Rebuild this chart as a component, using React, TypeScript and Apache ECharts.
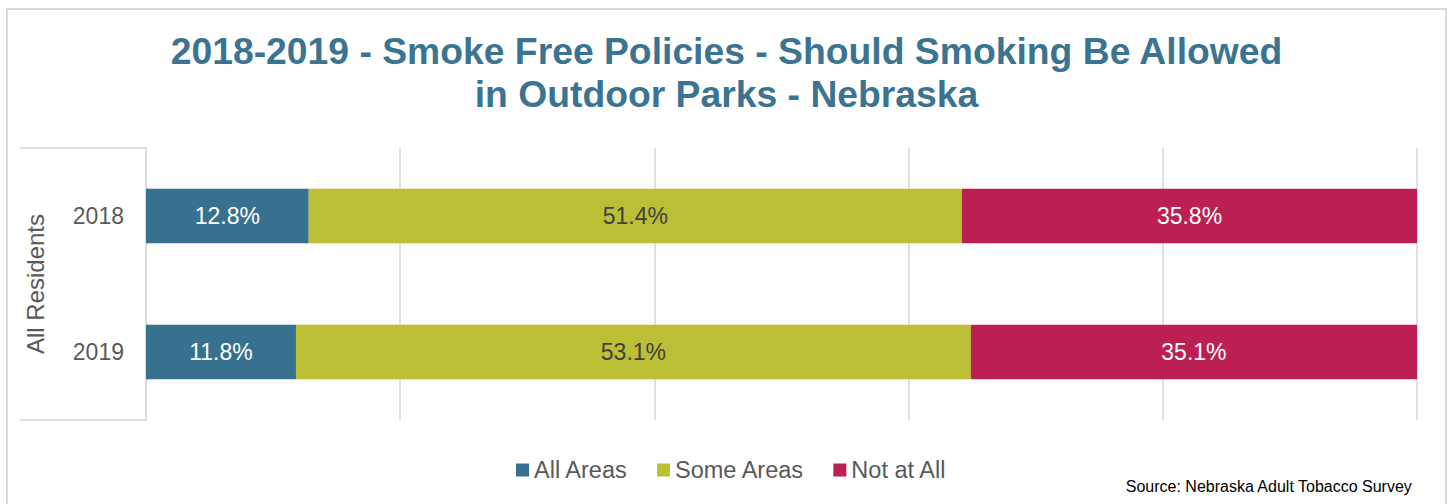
import React, { useEffect, useRef } from "react";
import * as echarts from "echarts";

const categories = ["2018", "2019"];
const seriesNames = ["All Areas", "Some Areas", "Not at All"];
const allAreas = [12.8, 11.8];
const someAreas = [51.4, 53.1];
const notAtAll = [35.8, 35.1];
const xTicks = [0, 20, 40, 60, 80, 100];

const titleText =
  "2018-2019 - Smoke Free Policies - Should Smoking Be Allowed\nin Outdoor Parks - Nebraska";
const groupLabel = "All Residents";
const sourceText = "Source: Nebraska Adult Tobacco Survey";

const colors = ["#38718F", "#BBBF35", "#BC1F52"];
const labelColors = ["#FFFFFF", "#404040", "#FFFFFF"];
const FONT = "'Liberation Sans', Arial, sans-serif";

export default function App() {
  const ref = useRef<HTMLDivElement>(null);
  useEffect(() => {
    if (!ref.current) return;
    const chart = echarts.init(ref.current, undefined, { renderer: "svg" });
    const values = [allAreas, someAreas, notAtAll];
    const gridLeft = 146;
    const gridTop = 148;
    const gridBottomY = 420;
    chart.setOption({
      animation: false,
      backgroundColor: "#FFFFFF",
      textStyle: { fontFamily: FONT },
      title: {
        text: titleText,
        left: "center",
        top: 29,
        padding: 0,
        textStyle: {
          fontFamily: FONT,
          fontSize: 37.3,
          fontWeight: "bold",
          color: "#3A7491",
          lineHeight: 43,
        },
      },
      legend: {
        data: seriesNames,
        left: 516,
        top: 458,
        padding: 0,
        icon: "rect",
        itemWidth: 13,
        itemHeight: 13,
        itemGap: 29,
        textStyle: { fontFamily: FONT, fontSize: 23.5, color: "#595959" },
      },
      grid: { left: gridLeft, right: 36, top: gridTop, bottom: 504 - gridBottomY, containLabel: false },
      xAxis: {
        type: "value",
        min: xTicks[0],
        max: xTicks[xTicks.length - 1],
        interval: xTicks[1] - xTicks[0],
        axisLabel: { show: false },
        axisLine: { show: false },
        axisTick: { show: false },
        splitLine: { show: true, lineStyle: { color: "#D9D9D9", width: 1.5 } },
      },
      yAxis: {
        type: "category",
        data: categories,
        inverse: true,
        axisLine: { show: true, lineStyle: { color: "#D9D9D9", width: 1.5 } },
        axisTick: { show: false },
        axisLabel: { margin: 22, fontSize: 23, color: "#595959", fontFamily: FONT },
      },
      series: seriesNames.map((name, i) => ({
        name,
        type: "bar",
        stack: "total",
        barWidth: "40%",
        data: values[i],
        itemStyle: { color: colors[i] },
        label: {
          show: true,
          position: "inside",
          fontFamily: FONT,
          fontSize: 23,
          color: labelColors[i],
          formatter: (p: any) => `${Number(p.value).toFixed(1)}%`,
        },
      })),
      graphic: [
        {
          type: "rect",
          shape: { x: 7, y: 9, width: 1439, height: 520 },
          style: { fill: "none", stroke: "#D9D9D9", lineWidth: 2 },
          silent: true,
        },
        {
          type: "line",
          shape: { x1: 20, y1: gridTop, x2: gridLeft, y2: gridTop },
          style: { stroke: "#D9D9D9", lineWidth: 1.5 },
          silent: true,
        },
        {
          type: "line",
          shape: { x1: 20, y1: gridBottomY, x2: gridLeft, y2: gridBottomY },
          style: { stroke: "#D9D9D9", lineWidth: 1.5 },
          silent: true,
        },
        {
          type: "text",
          x: 35,
          y: (gridTop + gridBottomY) / 2,
          rotation: Math.PI / 2,
          style: {
            text: groupLabel,
            fontFamily: FONT,
            fontSize: 24,
            fill: "#595959",
            textAlign: "center",
            textVerticalAlign: "middle",
          },
          silent: true,
        },
        {
          type: "text",
          right: 40,
          top: 478,
          style: {
            text: sourceText,
            fontFamily: FONT,
            fontSize: 16,
            fill: "#000000",
          },
          silent: true,
        },
      ],
    });
    return () => chart.dispose();
  }, []);
  return (
    <div
      ref={ref}
      style={{ position: "fixed", left: 0, top: 0, width: 1453, height: 504 }}
    />
  );
}
